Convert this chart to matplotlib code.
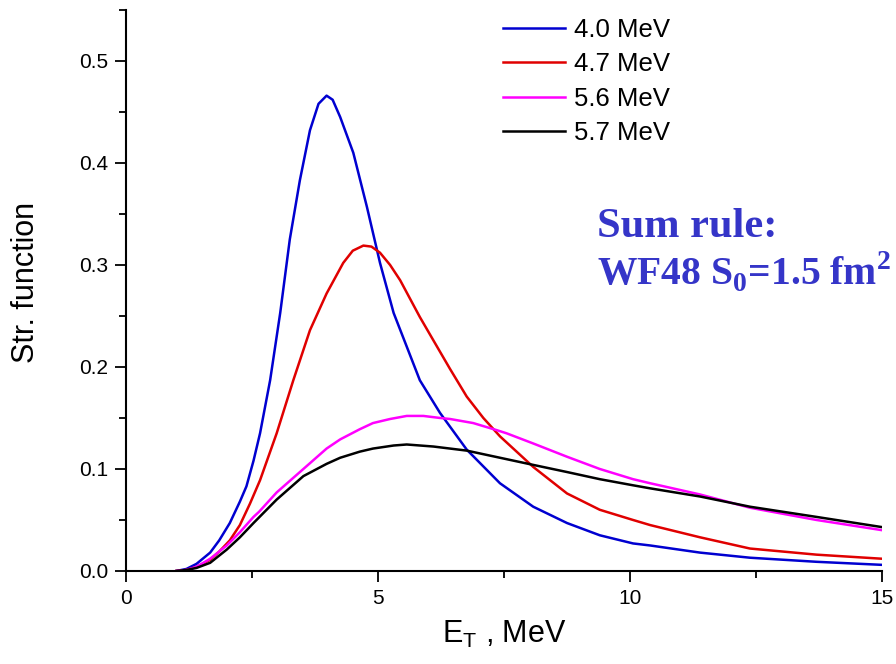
import matplotlib
matplotlib.use("Agg")
import matplotlib.pyplot as plt
from matplotlib.ticker import MultipleLocator

plt.rcParams["font.family"] = ["Liberation Sans", "DejaVu Sans"]
plt.rcParams["mathtext.fontset"] = "custom"
plt.rcParams["mathtext.rm"] = "Liberation Serif:bold"
plt.rcParams["mathtext.sf"] = "Liberation Sans"

# curves, E_T in MeV
x_40 = [1.0, 1.2, 1.4, 1.67, 1.85, 2.06, 2.26, 2.39, 2.53, 2.66, 2.86, 3.06, 3.25, 3.45,
        3.65, 3.82, 3.98, 4.1, 4.25, 4.51, 4.78, 5.04, 5.31, 5.57, 5.83, 6.23, 6.76,
        7.42, 8.08, 8.75, 9.4, 10.06, 10.4, 11.39, 12.38, 13.7, 15.0]
y_40 = [0.0, 0.002, 0.007, 0.018, 0.03, 0.047, 0.068, 0.083, 0.108, 0.135, 0.187, 0.253,
        0.325, 0.383, 0.432, 0.458, 0.466, 0.462, 0.445, 0.41, 0.357, 0.302, 0.253, 0.22,
        0.187, 0.155, 0.119, 0.086, 0.063, 0.047, 0.035, 0.027, 0.025, 0.018, 0.013,
        0.009, 0.006]

x_47 = [1.0, 1.2, 1.4, 1.67, 1.85, 2.06, 2.26, 2.46, 2.66, 2.99, 3.32, 3.65, 3.98, 4.31,
        4.5, 4.71, 4.87, 5.04, 5.24, 5.44, 5.83, 6.1, 6.43, 6.76, 7.09, 7.42, 8.08, 8.75,
        9.4, 10.06, 10.4, 11.39, 12.38, 13.7, 15.0]
y_47 = [0.0, 0.001, 0.004, 0.011, 0.019, 0.03, 0.045, 0.066, 0.089, 0.135, 0.187, 0.236,
        0.272, 0.302, 0.314, 0.319, 0.318, 0.312, 0.3, 0.285, 0.249, 0.226, 0.198, 0.171,
        0.15, 0.132, 0.102, 0.076, 0.06, 0.05, 0.045, 0.033, 0.022, 0.016, 0.012]

x_56 = [1.0, 1.2, 1.4, 1.67, 2.0, 2.26, 2.53, 2.64, 2.99, 3.52, 3.98, 4.25, 4.64, 4.9,
        5.24, 5.57, 5.9, 6.23, 6.43, 6.89, 7.36, 7.55, 8.08, 8.75, 9.4, 10.06, 10.4,
        11.39, 12.38, 13.7, 15.0]
y_56 = [0.0, 0.001, 0.004, 0.012, 0.025, 0.038, 0.053, 0.058, 0.077, 0.1, 0.12, 0.129,
        0.139, 0.145, 0.149, 0.152, 0.152, 0.15, 0.149, 0.145, 0.138, 0.135, 0.125, 0.112,
        0.1, 0.09, 0.086, 0.075, 0.062, 0.05, 0.04]

x_57 = [1.0, 1.2, 1.4, 1.67, 2.0, 2.26, 2.53, 2.99, 3.52, 3.98, 4.25, 4.64, 4.9, 5.31,
        5.57, 6.1, 6.76, 7.42, 8.08, 8.75, 9.4, 10.06, 10.4, 11.39, 12.38, 13.7, 15.0]
y_57 = [0.0, 0.001, 0.003, 0.008, 0.021, 0.033, 0.047, 0.07, 0.093, 0.105, 0.111, 0.117,
        0.12, 0.123, 0.124, 0.122, 0.118, 0.111, 0.104, 0.097, 0.09, 0.084, 0.081,
        0.073, 0.063, 0.053, 0.043]

labels = ["4.0 MeV", "4.7 MeV", "5.6 MeV", "5.7 MeV"]
colors = ["#0000d0", "#e00000", "#ff00ff", "#000000"]

fig = plt.figure(figsize=(8.96, 6.64), dpi=100)
ax = fig.add_axes([0.1406, 0.1401, 0.8438, 0.8449])

for xs, ys, lab, c in zip([x_40, x_47, x_56, x_57], [y_40, y_47, y_56, y_57], labels, colors):
    ax.plot(xs, ys, color=c, lw=1.8, label=lab, solid_joinstyle="round")

ax.set_xlim(0, 15)
ax.set_ylim(0, 0.55)
ax.xaxis.set_major_locator(MultipleLocator(5))
ax.xaxis.set_minor_locator(MultipleLocator(2.5))
ax.yaxis.set_major_locator(MultipleLocator(0.1))
ax.yaxis.set_minor_locator(MultipleLocator(0.05))
ax.xaxis.set_major_formatter(plt.FuncFormatter(lambda v, p: f"{v:.0f}"))
ax.yaxis.set_major_formatter(plt.FuncFormatter(lambda v, p: f"{v:.1f}"))

for s in ["top", "right"]:
    ax.spines[s].set_visible(False)
for s in ["left", "bottom"]:
    ax.spines[s].set_linewidth(1.5)

ax.tick_params(which="major", direction="out", length=8, width=1.3, labelsize=15, pad=5)
ax.tick_params(which="minor", direction="out", length=5, width=1.3)

ax.set_xlabel(r"E$_\mathsf{T}$ , MeV", fontsize=22)
ax.set_ylabel("Str. function", fontsize=22)
ax.xaxis.set_label_coords(0.5, -0.085)
ax.yaxis.set_label_coords(-0.112, 0.515)

ax.legend(loc="upper left", bbox_to_anchor=(503 / 896, 1 - 18 / 664),
          bbox_transform=fig.transFigure, frameon=False, fontsize=18.5,
          handlelength=2.4, handletextpad=0.35, labelspacing=0.4,
          borderpad=0, borderaxespad=0)

ann_color = "#3535c8"
fig.text(597 / 896, 1 - 237 / 664, "Sum rule:", fontsize=30.5, color=ann_color,
         family="Liberation Serif", weight="bold", va="baseline")
fig.text(597 / 896, 1 - 285 / 664, r"WF48 S$_\mathrm{0}$=1.5 fm$^\mathrm{2}$",
         fontsize=28.5, color=ann_color, family="Liberation Serif", weight="bold",
         va="baseline")

fig.savefig("out.png", dpi=100)
